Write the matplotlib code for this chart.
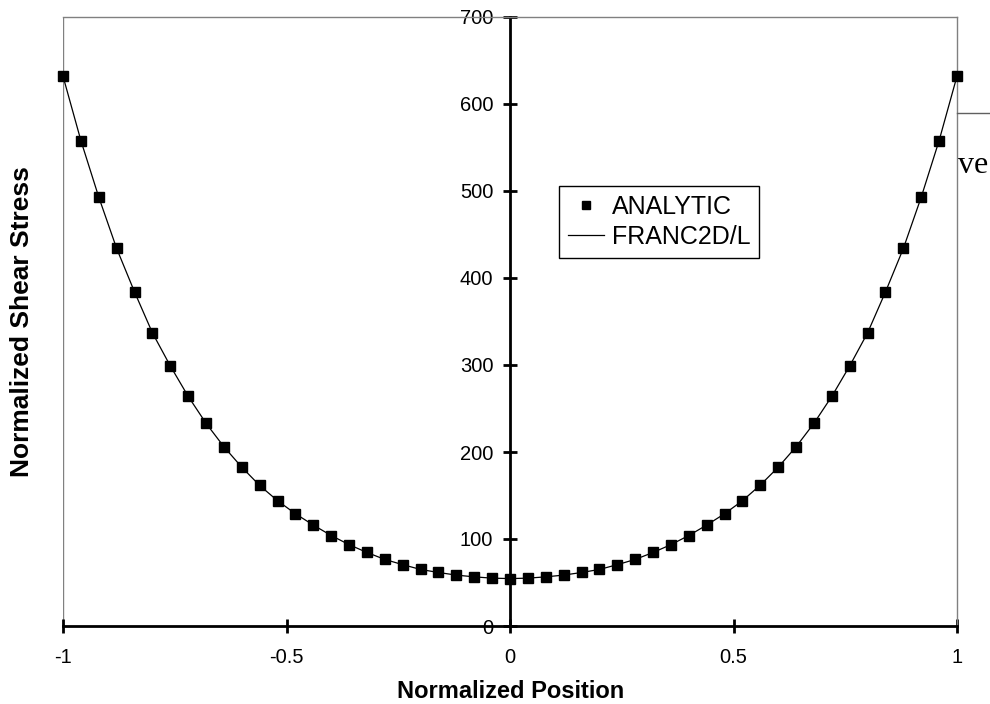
import matplotlib
matplotlib.use('Agg')
import matplotlib.pyplot as plt
from matplotlib.lines import Line2D

plt.rcParams['font.family'] = ['Liberation Sans', 'DejaVu Sans']

# normalized position along the crack front
position = [-1.00, -0.96, -0.92, -0.88, -0.84, -0.80, -0.76, -0.72, -0.68, -0.64,
            -0.60, -0.56, -0.52, -0.48, -0.44, -0.40, -0.36, -0.32, -0.28, -0.24,
            -0.20, -0.16, -0.12, -0.08, -0.04, 0.00, 0.04, 0.08, 0.12, 0.16,
            0.20, 0.24, 0.28, 0.32, 0.36, 0.40, 0.44, 0.48, 0.52, 0.56,
            0.60, 0.64, 0.68, 0.72, 0.76, 0.80, 0.84, 0.88, 0.92, 0.96, 1.00]

# normalized shear stress
analytic = [632, 558, 493, 434, 384, 337, 299, 264, 233, 206,
            182.5, 161.5, 144, 129, 116, 104, 93.5, 84.5, 76.5, 70.5,
            65, 61.5, 58.5, 56.5, 55, 54.5, 55, 56.5, 58.5, 61.5,
            65, 70.5, 76.5, 84.5, 93.5, 104, 116, 129, 144, 162,
            182.5, 206, 233, 264, 299, 337, 384, 434, 493, 558, 632]
franc2d = analytic

x_ticks = [-1, -0.5, 0, 0.5, 1]
x_labels = ['-1', '-0.5', '0', '0.5', '1']
y_ticks = [0, 100, 200, 300, 400, 500, 600, 700]

fig = plt.figure(figsize=(9.9, 7.04), dpi=100)
ax = fig.add_axes([63 / 990, 78 / 704, 894 / 990, 609 / 704])

curve, = ax.plot(position, franc2d, color='black', lw=0.9, zorder=3, clip_on=False)
pts, = ax.plot(position, analytic, ls='none', marker='s', ms=6.5, color='black',
               zorder=4, clip_on=False)

ax.set_xlim(-1, 1)
ax.set_ylim(0, 700)
ax.set_xticks(x_ticks)
ax.set_xticklabels(x_labels)
ax.set_yticks(y_ticks)

# axes cross at the origin, grey frame around the plot area
ax.spines['left'].set_position(('data', 0))
for s in ('left', 'bottom'):
    ax.spines[s].set_linewidth(2)
    ax.spines[s].set_color('black')
for s in ('top', 'right'):
    ax.spines[s].set_linewidth(1)
    ax.spines[s].set_color('#808080')
ax.axvline(-1, color='#808080', lw=1, zorder=1)

ax.tick_params(direction='inout', length=10, width=2, labelsize=14.5, colors='black')
ax.tick_params(axis='y', pad=7)
ax.tick_params(axis='x', pad=11)

ax.set_xlabel('Normalized Position', fontsize=17, fontweight='bold', va='baseline')
ax.xaxis.set_label_coords(0.501, -0.118)
ax.set_ylabel('Normalized Shear Stress', fontsize=19, fontweight='bold', va='center')
ax.yaxis.set_label_coords(-0.046, 0.5)

leg = ax.legend([pts, curve], ['ANALYTIC', 'FRANC2D/L'], loc='upper left',
                bbox_to_anchor=(559 / 990, 1 - 186 / 704), bbox_transform=fig.transFigure,
                fontsize=18, frameon=True, fancybox=False, edgecolor='black', framealpha=1,
                borderaxespad=0, handlelength=1.45, handletextpad=0.3, borderpad=0.35,
                labelspacing=0.25, markerscale=0.8)
leg.get_frame().set_linewidth(1)

# bits of the surrounding page that show at the right edge
fig.add_artist(Line2D([957 / 990, 1], [1 - 113 / 704] * 2, color='#606060', lw=1))
fig.text(958 / 990, 1 - 173 / 704, 've', family='Liberation Serif', fontsize=23,
         va='baseline')

fig.savefig('out.png', dpi=100)
